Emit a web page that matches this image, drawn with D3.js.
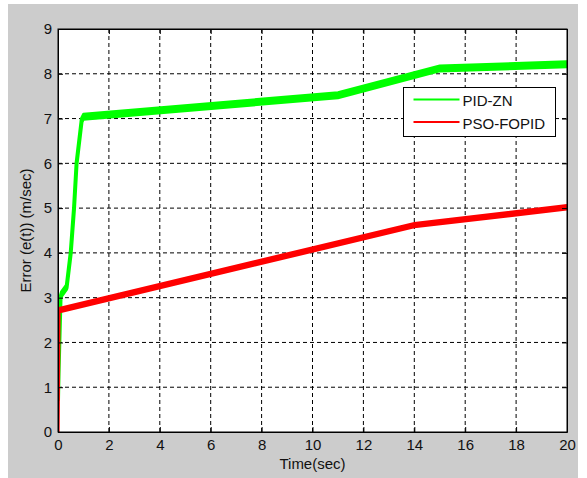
<html>
<head>
<script src="https://d3js.org/d3.v7.min.js"></script>
<style>
  body { margin: 0; background: #fff; }
  svg { font-family: "Liberation Sans", Arial, sans-serif; }
  .axis text { font-size: 15px; fill: #111; }
  .axis path, .axis line { stroke: #000; }
  .grid line { stroke: #000; stroke-dasharray: 4,3; }
  .curve { fill: none; stroke-linejoin: round; }
</style>
</head>
<body>
<div id="chart"></div>
<script>
// PID-ZN response
var timePidZn = [0, 0.02, 0.1, 0.14, 0.34, 0.5, 0.63, 0.73, 0.93, 1.0, 11, 15, 20];
var errPidZn  = [0.7, 1.3, 3.0, 3.08, 3.24, 4.0, 5.0, 6.0, 6.96, 7.04, 7.52, 8.12, 8.21];

// PSO-FOPID response
var timePso = [0, 0.04, 14, 20];
var errPso  = [0, 2.72, 4.62, 5.02];

var xTicks = [0, 2, 4, 6, 8, 10, 12, 14, 16, 18, 20];
var yTicks = [0, 1, 2, 3, 4, 5, 6, 7, 8, 9];

var series = [
  {name: "PID-ZN", color: "#00ff00", width: 8, t: timePidZn, e: errPidZn},
  {name: "PSO-FOPID", color: "#ff0000", width: 6.5, t: timePso, e: errPso}
];

var W = 587, H = 478;
var mLeft = 58, mTop = 29, mRight = 567, mBottom = 432;
var pw = mRight - mLeft, ph = mBottom - mTop;

var svg = d3.select("#chart").append("svg")
  .attr("width", W)
  .attr("height", H);

// figure background
svg.append("rect")
  .attr("x", 8).attr("y", 4)
  .attr("width", 570).attr("height", H - 4)
  .attr("fill", "#cccccc");

var g = svg.append("g").attr("transform", `translate(${mLeft},${mTop})`);

g.append("rect").attr("width", pw).attr("height", ph).attr("fill", "#fff");

var x = d3.scaleLinear().domain([0, 20]).range([0, pw]);
var y = d3.scaleLinear().domain([0, 9]).range([ph, 0]);

/* grid */
var grid = g.append("g").attr("class", "grid");
grid.selectAll(".gx").data(xTicks.slice(1, -1)).enter().append("line")
  .attr("x1", d => x(d)).attr("x2", d => x(d))
  .attr("y1", 0).attr("y2", ph);
grid.selectAll(".gy").data(yTicks.slice(1, -1)).enter().append("line")
  .attr("y1", d => y(d)).attr("y2", d => y(d))
  .attr("x1", 0).attr("x2", pw);

/* lines - the source strokes look squashed sideways, so draw on a
   double-width scale and shrink the group back by half */
g.append("clipPath").attr("id", "clip")
  .append("rect").attr("width", pw).attr("height", ph);

var x2 = d3.scaleLinear().domain([0, 20]).range([0, pw * 2]);
var line = d3.line()
  .x(d => x2(d[0]))
  .y(d => y(d[1]));

var lines = g.append("g").attr("clip-path", "url(#clip)")
  .append("g").attr("transform", "scale(0.5,1)");

lines.selectAll(".curve").data(series).enter().append("path")
  .attr("class", "curve")
  .attr("d", s => line(s.t.map((t, i) => [t, s.e[i]])))
  .attr("stroke", s => s.color)
  .attr("stroke-width", s => s.width);

/* axes, ticks inside on all four sides */
g.append("g").attr("class", "axis")
  .attr("transform", `translate(0,${ph})`)
  .call(d3.axisBottom(x).tickValues(xTicks).tickSizeInner(-5).tickSizeOuter(0).tickPadding(7));
g.append("g").attr("class", "axis")
  .call(d3.axisTop(x).tickValues(xTicks).tickSizeInner(-5).tickSizeOuter(0).tickFormat(""));
g.append("g").attr("class", "axis")
  .call(d3.axisLeft(y).tickValues(yTicks).tickSizeInner(-5).tickSizeOuter(0).tickPadding(6));
g.append("g").attr("class", "axis")
  .attr("transform", `translate(${pw},0)`)
  .call(d3.axisRight(y).tickValues(yTicks).tickSizeInner(-5).tickSizeOuter(0).tickFormat(""));

g.append("rect").attr("width", pw).attr("height", ph)
  .attr("fill", "none").attr("stroke", "#000");

/* axis titles */
svg.append("text")
  .attr("x", mLeft + pw / 2).attr("y", 469)
  .attr("text-anchor", "middle")
  .style("font-size", "15px").style("fill", "#111")
  .text("Time(sec)");

svg.append("text")
  .attr("transform", `translate(31,${mTop + ph / 2}) rotate(-90)`)
  .attr("text-anchor", "middle")
  .style("font-size", "15px").style("fill", "#111")
  .text("Error (e(t)) (m/sec)");

/* legend */
var leg = svg.append("g").attr("transform", "translate(403.5,87.5)");
leg.append("rect").attr("width", 152).attr("height", 49)
  .attr("fill", "#fff").attr("stroke", "#000");
var item = leg.selectAll(".item").data(series).enter().append("g")
  .attr("transform", (d, i) => `translate(0,${12 + i * 22.5})`);
item.append("line")
  .attr("x1", 10).attr("x2", 56)
  .attr("stroke", d => d.color).attr("stroke-width", 2);
item.append("text")
  .attr("x", 59).attr("y", 6.5)
  .style("font-size", "15px").style("fill", "#111")
  .text(d => d.name);
</script>
</body>
</html>
